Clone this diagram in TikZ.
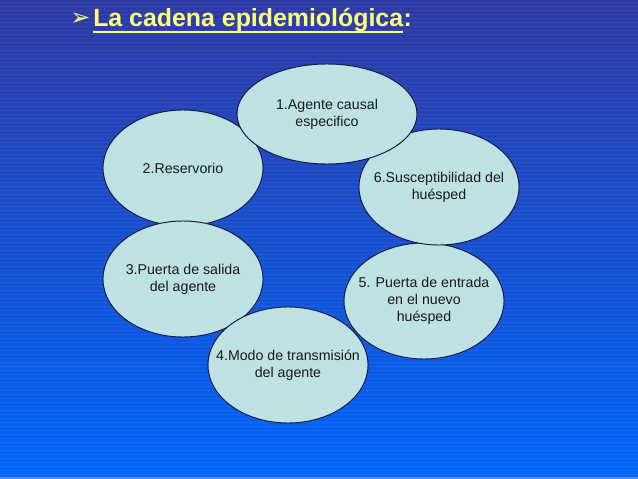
\documentclass[tikz,border=0pt]{standalone}
\usepackage{fontspec}
\setmainfont{Liberation Sans}
\newfontfamily\dejavu{DejaVu Sans}
\usepackage{xcolor}
\usetikzlibrary{shapes.geometric}
\definecolor{fondoarriba}{RGB}{46,58,164}
\definecolor{fondoabajo}{RGB}{0,102,250}
\definecolor{celeste}{RGB}{190,225,228}
\definecolor{borde}{RGB}{20,25,70}
\definecolor{amarillo}{RGB}{255,255,125}

\begin{document}
\begin{tikzpicture}[x=0.025cm,y=-0.025cm]
\tikzstyle{etapa}=[ellipse, draw=borde, fill=celeste, line width=0.7pt, minimum width=4cm, minimum height=2.9cm, inner sep=0pt]
\tikzstyle{texto}=[align=center, inner sep=0pt, text=black!90, font=\fontsize{10.1}{12.2}\selectfont]
\tikzstyle{titulo}=[anchor=base west, inner sep=0pt, text=amarillo, font=\fontsize{17.7}{20}\selectfont\bfseries]

% fondo
\useasboundingbox (0,0) rectangle (638,479);
\shade[top color=fondoarriba, bottom color=fondoabajo] (0,0) rectangle (638,479);
\foreach \y in {2,6,...,478}
  \draw[white, opacity=0.05, line width=0.4pt] (0,\y) -- (638,\y);
\fill[fondoabajo!70!white] (0,477) rectangle (638,479);

% titulo
\node[anchor=base west, inner sep=0pt, text=amarillo, font=\dejavu\fontsize{17}{17}\selectfont] (vineta) at (70,26) {➢};
\node[titulo] (titulo) at (93,27) {La cadena epidemiológica};
\node[titulo] (dospuntos) at (titulo.base east) {:};
\draw[amarillo, line width=1.4pt] ([yshift=-3.6pt]titulo.base west) -- ([yshift=-3.6pt]titulo.base east);

% cadena
\node[etapa, label={[texto]center:2.Reservorio}] (e2) at (183,168) {};
\node[etapa, label={[texto]center:{3.Puerta de salida\\del agente}}] (e3) at (183,279) {};
\node[etapa, label={[texto]center:{4.Modo de transmisión\\del agente}}] (e4) at (288,365) {};
\node[etapa, label={[texto]center:{5. Puerta de entrada\\en el nuevo\\huésped}}] (e5) at (424,301) {};
\node[etapa, label={[texto]center:{6.Susceptibilidad del\\huésped}}] (e6) at (439,187) {};
\node[etapa, minimum width=4.5cm, minimum height=2.5cm, label={[texto]center:{1.Agente causal\\especifico}}] (e1) at (327,114) {};

\end{tikzpicture}
\end{document}
